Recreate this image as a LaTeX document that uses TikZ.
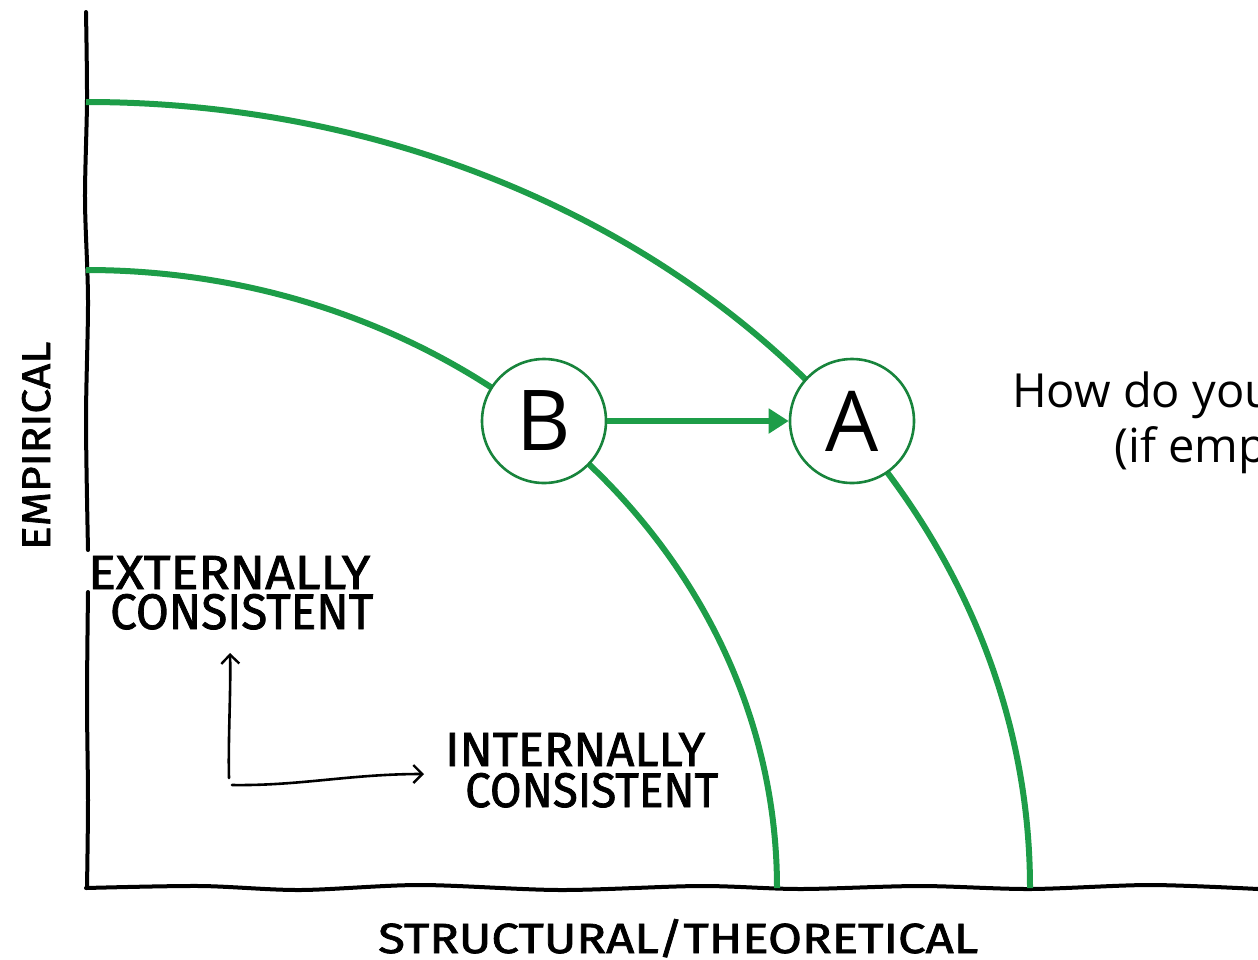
\documentclass[tikz,border=0pt]{standalone}
\usepackage{fontspec}
\setmainfont{Open Sans}
\newfontfamily\xkfont[FakeBold=1.6]{Fira Sans}
\usetikzlibrary{arrows.meta}
\definecolor{arcgreen}{RGB}{29,157,72}
\definecolor{ringgreen}{RGB}{24,132,60}
\newcommand{\xkfit}[3]{\resizebox{#1}{#2}{\xkfont #3}}
\begin{document}
\begin{tikzpicture}[x=1pt,y=-1pt,
  arcline/.style={draw=arcgreen, line width=6pt},
  ring/.style={circle, draw=ringgreen, line width=2.6pt, fill=white, minimum size=124pt, inner sep=0pt, font=\fontsize{84}{84}\selectfont},
  axisline/.style={line width=4pt, black, line cap=round},
  hand/.style={line width=2.6pt, black, line cap=round, -{Straight Barb[length=9pt,width=18pt,line width=2.4pt]}},
  lbl/.style={inner sep=0pt, anchor=base west},
  qtext/.style={inner sep=0pt, anchor=base west, font=\fontsize{47}{47}\selectfont},
]
\useasboundingbox (0,0) rectangle (1258,959);

% axes
\draw[axisline] plot[smooth] coordinates {(86,12) (87,100) (85,200) (88,300) (86,420) (88,550)};
\draw[axisline] plot[smooth] coordinates {(88,592) (87,700) (88,800) (87,888)};
\draw[axisline] plot[smooth] coordinates {(86,888) (200,886) (300,890) (420,885) (560,890) (700,886) (800,889) (920,886) (1030,889) (1150,885) (1258,889)};

% arcs
\draw[arcline] (86,102) .. controls (607,102) and (1030,454) .. (1030,888);
\draw[arcline] (86,270) .. controls (468,270) and (777,547) .. (777,888);

% circles
\node[ring] (B) at (544,421) {B};
\node[ring] (A) at (852,421) {A};
\draw[draw=arcgreen, line width=6pt, -{Triangle[length=20pt,width=24pt]}] (B) -- (A);

% question text (cut by the page edge)
\node[qtext] (q1) at (1012,407) {How do you};
\node[qtext] (q2) at (1114,462) {(if emp};

% xkcd labels
\node[lbl, rotate=90] (emp) at (50,550) {\xkfit{208pt}{28pt}{EMPIRICAL}};
\node[lbl] (ext1) at (88,589) {\xkfit{282pt}{33pt}{EXTERNALLY}};
\node[lbl] (ext2) at (110,629) {\xkfit{263pt}{35pt}{CONSISTENT}};
\node[lbl] (int1) at (445,766) {\xkfit{260pt}{33pt}{INTERNALLY}};
\node[lbl] (int2) at (465,807) {\xkfit{253pt}{34pt}{CONSISTENT}};
\node[lbl] (xl) at (378,953) {\xkfit{600pt}{34pt}{STRUCTURAL/THEORETICAL}};

% small hand arrows
\coordinate (o1) at (229,778);
\coordinate (u1) at (230,653);
\coordinate (o2) at (232,785);
\coordinate (r1) at (424,774);
\draw[hand] (o1) .. controls (228,740) and (231,690) .. (u1);
\draw[hand] (o2) .. controls (300,786) and (350,774) .. (r1);
\end{tikzpicture}
\end{document}
